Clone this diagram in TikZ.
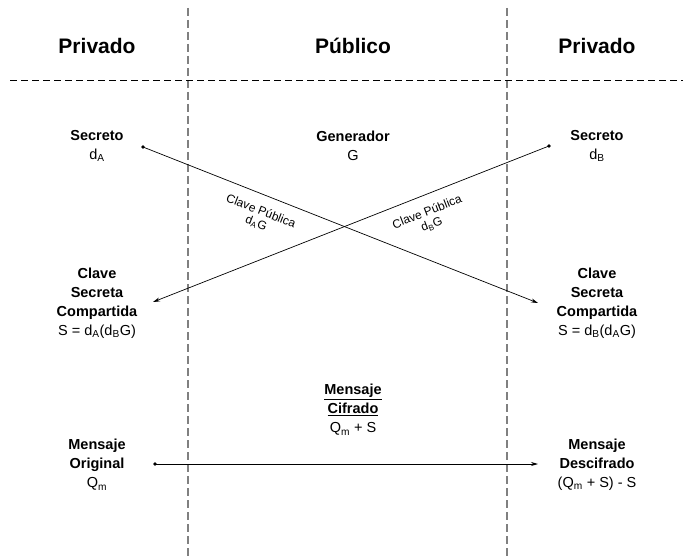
\documentclass[tikz,border=0pt]{standalone}
\usepackage{fontspec}
\setmainfont{Liberation Sans}
\usetikzlibrary{arrows.meta}

\begin{document}
\begin{tikzpicture}[x=1pt,y=-1pt,
  titulo/.style={font=\fontsize{21}{25}\selectfont\bfseries},
  bloque/.style={align=center,font=\fontsize{14.5}{19}\selectfont},
  etiqueta/.style={align=center,font=\fontsize{12}{13}\selectfont,inner sep=1pt},
  flecha/.style={-{Stealth[length=7pt,width=4pt]},line width=0.7pt},
  punto/.style={circle,fill,inner sep=1.4pt}]

\useasboundingbox (0,0) rectangle (683,559);

% zonas
\draw[gray,line width=1.2pt,dash pattern=on 8pt off 4pt] (188,8) -- (188,559);
\draw[gray,line width=1.2pt,dash pattern=on 8pt off 4pt] (507,8) -- (507,559);
\draw[line width=0.9pt,dash pattern=on 7pt off 4pt] (10,80) -- (683,80);

\node[titulo] (privA) at (97,46) {Privado};
\node[titulo] (publico) at (353,46) {Público};
\node[titulo] (privB) at (597,46) {Privado};

\node[bloque] (secA) at (97,146) {\textbf{Secreto}\\d\textsubscript{A}};
\node[bloque] (gen) at (353,146) {\textbf{Generador}\\G};
\node[bloque] (secB) at (597,146) {\textbf{Secreto}\\d\textsubscript{B}};

\node[bloque] (compA) at (97,303) {\textbf{Clave}\\\textbf{Secreta}\\\textbf{Compartida}\\S = d\textsubscript{A}(d\textsubscript{B}G)};
\node[bloque] (compB) at (597,303) {\textbf{Clave}\\\textbf{Secreta}\\\textbf{Compartida}\\S = d\textsubscript{B}(d\textsubscript{A}G)};

\node[bloque] (cifrado) at (353,410) {\textbf{\underline{Mensaje}}\\\textbf{\underline{Cifrado}}\\Q\textsubscript{m} + S};
\node[bloque] (orig) at (97,465) {\textbf{Mensaje}\\\textbf{Original}\\Q\textsubscript{m}};
\node[bloque] (descif) at (597,465) {\textbf{Mensaje}\\\textbf{Descifrado}\\(Q\textsubscript{m} + S) - S};

% puntos de salida y llegada
\node[punto] (puntoA) at (143,147) {};
\node[punto] (puntoB) at (549,146) {};
\node[punto] (puntoM) at (155,464) {};
\coordinate (llegaB) at (538,303);
\coordinate (llegaA) at (153,302);
\coordinate (llegaM) at (538,464);

\draw[flecha] (puntoA.center) -- (llegaB);
\draw[flecha] (puntoB.center) -- (llegaA);
\draw[flecha] (puntoM.center) -- (llegaM);

\node[etiqueta,rotate=-21.4] (pubA) at (258.5,217.5) {Clave Pública\\d\textsubscript{A}G};
\node[etiqueta,rotate=21.4] (pubB) at (429.5,218.5) {Clave Pública\\d\textsubscript{B}G};

\end{tikzpicture}
\end{document}
